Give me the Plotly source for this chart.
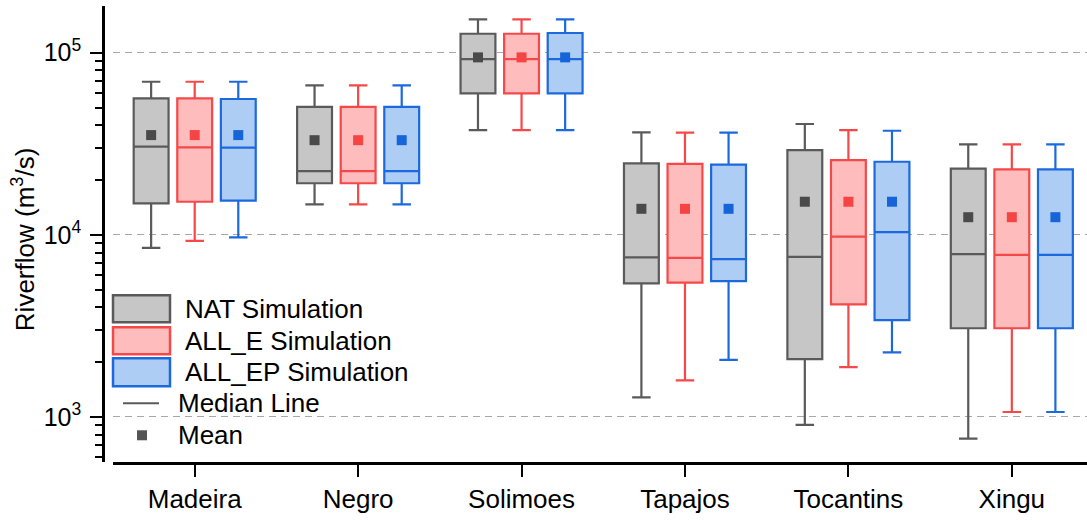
import plotly.graph_objects as go

# River basins on the category axis
rivers = ["Madeira", "Negro", "Solimoes", "Tapajos", "Tocantins", "Xingu"]

# Box statistics per simulation (m3/s)
nat_upper = [69300, 66200, 152600, 36500, 40600, 31400]
nat_q3 = [56100, 50400, 127100, 24700, 29200, 23100]
nat_median = [30500, 22400, 92300, 7520, 7570, 7840]
nat_q1 = [14900, 19200, 59800, 5410, 2080, 3070]
nat_lower = [8490, 14700, 37600, 1280, 904, 760]
nat_mean = [35300, 33100, 94300, 13900, 15200, 12500]

alle_upper = [69300, 66200, 152600, 36400, 37600, 31400]
alle_q3 = [56100, 50400, 127100, 24500, 25700, 22900]
alle_median = [30200, 22400, 92300, 7480, 9790, 7770]
alle_q1 = [15200, 19200, 59800, 5470, 4150, 3070]
alle_lower = [9270, 14700, 37600, 1590, 1880, 1065]
alle_mean = [35300, 33100, 94300, 13900, 15200, 12500]

allep_upper = [69300, 66200, 152600, 36400, 37300, 31400]
allep_q3 = [55700, 50400, 128300, 24300, 25200, 22900]
allep_median = [30100, 22400, 92300, 7350, 10350, 7770]
allep_q1 = [15400, 19200, 59800, 5570, 3400, 3070]
allep_lower = [9680, 14700, 37600, 2060, 2260, 1065]
allep_mean = [35300, 33100, 94300, 13900, 15200, 12500]

# Axis ticks
major_ticks = [1e3, 1e4, 1e5]
major_labels = ["10<sup>3</sup>", "10<sup>4</sup>", "10<sup>5</sup>"]
minor_ticks = [m * 10 ** e for e in range(2, 6) for m in range(2, 10)]

series = [
    ("NAT Simulation", nat_q1, nat_median, nat_q3, nat_lower, nat_upper, nat_mean,
     "#5a5a5a", "#c6c6c6", "#4a4a4a"),
    ("ALL_E Simulation", alle_q1, alle_median, alle_q3, alle_lower, alle_upper, alle_mean,
     "#f54848", "#ffbcbc", "#f44444"),
    ("ALL_EP Simulation", allep_q1, allep_median, allep_q3, allep_lower, allep_upper, allep_mean,
     "#1c69dd", "#aecdf5", "#1565d8"),
]

FONT = "Arial, Liberation Sans, sans-serif"
TXT = 26
W, H = 1087, 520
ML, MR, MT, MB = 103, 0, 6, 58.3
PW, PH = W - ML - MR, H - MT - MB


def px(x):
    return (x - ML) / PW


def py(y):
    return (H - MB - y) / PH


fig = go.Figure()

for name, q1, med, q3, lo, hi, mean, line_c, fill_c, mean_c in series:
    fig.add_trace(go.Box(
        name=name, x=rivers, q1=q1, median=med, q3=q3,
        lowerfence=lo, upperfence=hi,
        line=dict(color=line_c, width=2.2), fillcolor=fill_c,
        whiskerwidth=0.53, boxpoints=False,
    ))

for name, q1, med, q3, lo, hi, mean, line_c, fill_c, mean_c in series:
    fig.add_trace(go.Scatter(
        name=name + " mean", x=rivers, y=mean, mode="markers",
        marker=dict(symbol="square", size=10, color=mean_c, line=dict(width=0)),
    ))

# Legend drawn as shapes and text
shapes = []
annotations = []
legend_rows = [(295, 322), (327, 354), (358, 386)]
for (name, *_rest), (y0, y1) in zip(series, legend_rows):
    line_c, fill_c = _rest[6], _rest[7]
    shapes.append(dict(type="rect", xref="paper", yref="paper",
                       x0=px(113), x1=px(170), y0=py(y1), y1=py(y0),
                       fillcolor=fill_c, line=dict(color=line_c, width=2.5)))
    annotations.append(dict(text=name, xref="paper", yref="paper",
                            x=px(183), y=py((y0 + y1) / 2), xanchor="left", yanchor="middle",
                            showarrow=False, font=dict(size=TXT, color="black", family=FONT)))

shapes.append(dict(type="line", xref="paper", yref="paper",
                   x0=px(123), x1=px(159), y0=py(403), y1=py(403),
                   line=dict(color="#5a5a5a", width=2)))
annotations.append(dict(text="Median Line", xref="paper", yref="paper",
                        x=px(176), y=py(403), xanchor="left", yanchor="middle",
                        showarrow=False, font=dict(size=TXT, color="black", family=FONT)))
shapes.append(dict(type="rect", xref="paper", yref="paper",
                   x0=px(137), x1=px(147), y0=py(440), y1=py(430),
                   fillcolor="#555555", line=dict(width=0)))
annotations.append(dict(text="Mean", xref="paper", yref="paper",
                        x=px(176), y=py(435), xanchor="left", yanchor="middle",
                        showarrow=False, font=dict(size=TXT, color="black", family=FONT)))

# Y-axis title
annotations.append(dict(text="Riverflow (m<sup>3</sup>/s)", xref="paper", yref="paper",
                        x=px(23), y=py(240), textangle=-90, xanchor="center", yanchor="middle",
                        showarrow=False, font=dict(size=TXT, color="black", family=FONT)))

fig.update_layout(
    width=W, height=H,
    margin=dict(l=ML, r=MR, t=MT, b=MB, pad=0),
    paper_bgcolor="white", plot_bgcolor="white",
    font=dict(family=FONT, color="black"),
    showlegend=False,
    boxmode="group", boxgap=0.2, boxgroupgap=0.2,
    scattermode="group", scattergap=0.2,
    shapes=shapes, annotations=annotations,
    xaxis=dict(
        type="category", domain=[10 / PW, 1], range=[-0.5, 5.46],
        anchor="y", showline=True, linecolor="black", linewidth=2.5,
        ticks="outside", ticklen=12, tickwidth=2, tickcolor="black",
        tickfont=dict(size=TXT, color="black", family=FONT),
        showgrid=False, zeroline=False,
    ),
    yaxis=dict(
        type="log", range=[2.7527, 5.2566], anchor="free", position=0,
        showline=True, linecolor="black", linewidth=2.5,
        ticks="outside", ticklen=12, tickwidth=2, tickcolor="black",
        tickvals=major_ticks, ticktext=major_labels, ticklabelstandoff=4,
        tickfont=dict(size=25, color="black", family=FONT),
        showgrid=True, gridcolor="#a8a8a8", gridwidth=1.3, griddash="7px,5px",
        zeroline=False,
        minor=dict(tickvals=minor_ticks, ticks="outside", ticklen=7, tickwidth=2,
                   tickcolor="black", showgrid=False),
    ),
)

fig.write_html("out.html")
